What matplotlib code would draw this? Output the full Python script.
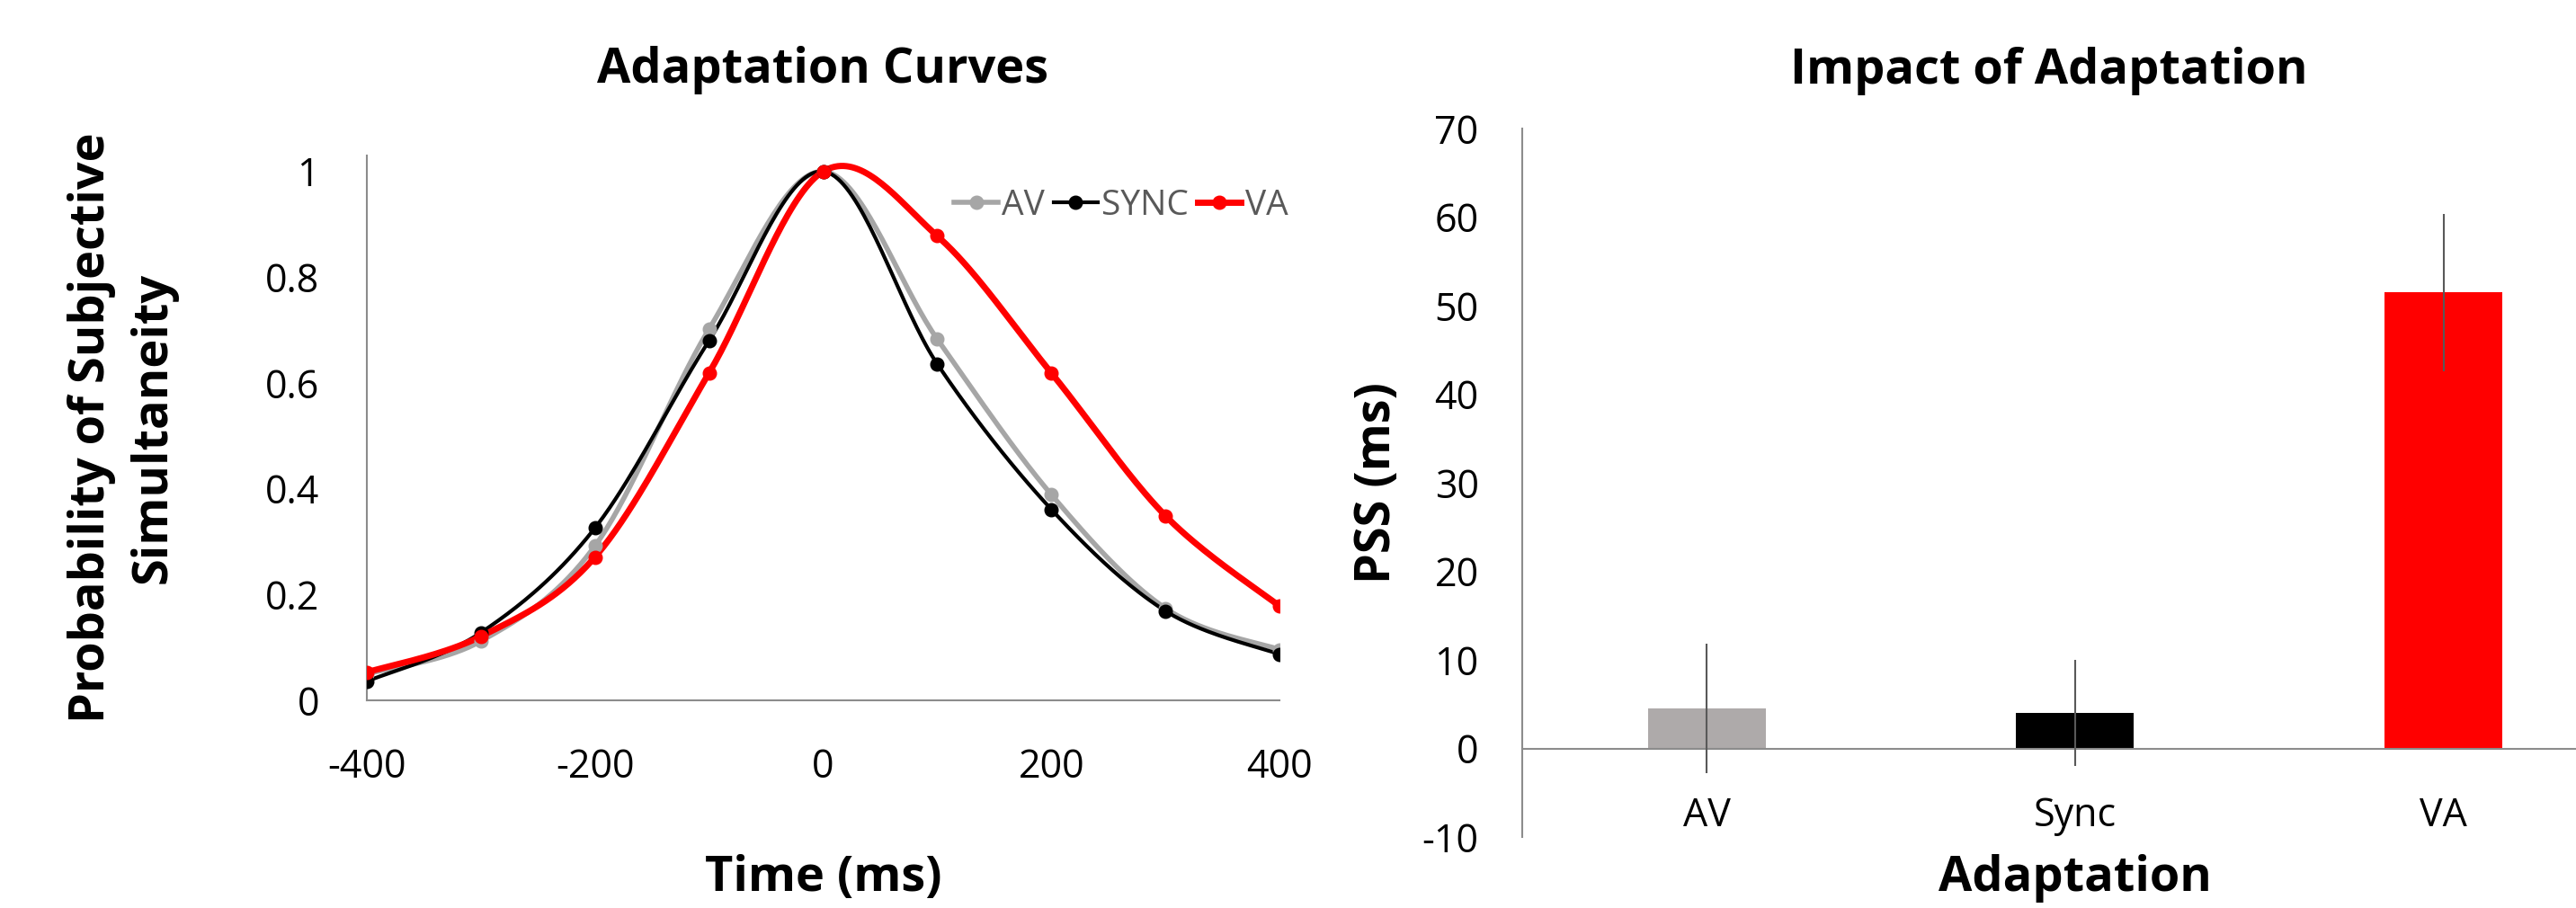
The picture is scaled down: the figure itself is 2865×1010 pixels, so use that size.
import numpy as np
import matplotlib
matplotlib.use("Agg")
import matplotlib.pyplot as plt

plt.rcParams['font.family'] = ['Open Sans', 'DejaVu Sans']
plt.rcParams['axes.unicode_minus'] = False

# left panel: simultaneity curves
time_ms = [-400, -300, -200, -100, 0, 100, 200, 300, 400]
av = [0.050, 0.112, 0.292, 0.702, 1.0, 0.683, 0.389, 0.174, 0.096]
sync = [0.036, 0.128, 0.326, 0.680, 1.0, 0.636, 0.361, 0.169, 0.087]
va = [0.053, 0.121, 0.271, 0.619, 1.0, 0.878, 0.619, 0.349, 0.178]

# right panel: PSS bars
conditions = ['AV', 'Sync', 'VA']
pss = [4.5, 4.05, 51.5]
pss_err = [7.3, 6.0, 8.9]


def smooth(x, y, n=40):
    # excel-like smoothed line (bezier, catmull-rom control points)
    x = np.asarray(x, float)
    y = np.asarray(y, float)
    px = np.concatenate(([x[0]], x, [x[-1]]))
    py = np.concatenate(([y[0]], y, [y[-1]]))
    t = np.linspace(0, 1, n)[:, None]
    xs, ys = [], []
    for i in range(1, len(px) - 2):
        p0 = np.array([px[i], py[i]])
        p3 = np.array([px[i + 1], py[i + 1]])
        c1 = p0 + (np.array([px[i + 1], py[i + 1]]) - np.array([px[i - 1], py[i - 1]])) / 6
        c2 = p3 - (np.array([px[i + 2], py[i + 2]]) - p0) / 6
        b = ((1 - t) ** 3) * p0 + 3 * ((1 - t) ** 2) * t * c1 + 3 * (1 - t) * t ** 2 * c2 + t ** 3 * p3
        xs.append(b[:, 0])
        ys.append(b[:, 1])
    return np.concatenate(xs), np.concatenate(ys)


fig = plt.figure(figsize=(28.65, 10.10), dpi=100)
axis_col = '#8c8c8c'

# ---- left
ax1 = fig.add_axes([0.1424, 0.2287, 0.3543, 0.60])
series = [('AV', av, '#a6a6a6', 4.0), ('SYNC', sync, 'black', 3.0), ('VA', va, '#ff0000', 5.0)]
for name, vals, col, lw in series:
    sx, sy = smooth(time_ms, vals)
    ax1.plot(sx, sy, color=col, lw=lw, zorder=3)
    ax1.plot(time_ms, vals, 'o', color=col, ms=10.5, zorder=4)
    ax1.plot([], [], '-o', color=col, lw=lw, ms=10.5, label=name)

ax1.set_xlim(-400, 400)
ax1.set_ylim(0, 1.03)
ax1.set_xticks([-400, -200, 0, 200, 400])
ax1.set_yticks([0, 0.2, 0.4, 0.6, 0.8, 1])
ax1.set_yticklabels(['0', '0.2', '0.4', '0.6', '0.8', '1'])
ax1.tick_params(length=0, labelsize=31, pad=38)
ax1.tick_params(axis='x', pad=38)
ax1.spines['top'].set_visible(False)
ax1.spines['right'].set_visible(False)
ax1.spines['left'].set_color(axis_col)
ax1.spines['bottom'].set_color(axis_col)
ax1.spines['left'].set_linewidth(1.5)
ax1.spines['bottom'].set_linewidth(1.5)
ax1.set_title('Adaptation Curves', fontsize=39, fontweight='bold', pad=58)
ax1.set_xlabel('Time (ms)', fontsize=39, fontweight='bold')
ax1.xaxis.set_label_coords(0.5, -0.327)
ax1.xaxis.label.set_va('center')
ax1.set_ylabel('Probability of Subjective\nSimultaneity', fontsize=39, fontweight='bold',
               labelpad=70, linespacing=1.35)
leg = ax1.legend(loc='upper right', bbox_to_anchor=(1.025, 0.965), ncol=3, frameon=False,
                 fontsize=28, handlelength=1.25, handletextpad=0.12, columnspacing=0.25,
                 borderaxespad=0)
for t in leg.get_texts():
    t.set_color('#595959')

# ---- right
ax2 = fig.add_axes([0.591, 0.0782, 0.409, 0.7802])
xpos = np.arange(len(conditions))
ax2.bar(xpos, pss, width=0.32, color=['#aeaaaa', 'black', '#ff0000'], zorder=2)
ax2.errorbar(xpos, pss, yerr=pss_err, fmt='none', ecolor='#595959', elinewidth=1.5, capsize=0, zorder=3)
x_lo, x_hi = -0.5, 2.36
ax2.set_xlim(x_lo, x_hi)
ax2.set_ylim(-10, 70)
ax2.set_yticks(range(-10, 71, 10))
ax2.set_xticks(xpos)
ax2.set_xticklabels(conditions)
ax2.spines['top'].set_visible(False)
ax2.spines['right'].set_visible(False)
ax2.spines['bottom'].set_position(('data', 0))
ax2.spines['left'].set_color(axis_col)
ax2.spines['bottom'].set_color(axis_col)
ax2.spines['left'].set_linewidth(1.5)
ax2.spines['bottom'].set_linewidth(1.5)
ax2.tick_params(length=0, labelsize=31, pad=35)
ax2.tick_params(axis='x', pad=38)
ax2.set_title('Impact of Adaptation', fontsize=39, fontweight='bold', pad=36)
ax2.set_ylabel('PSS (ms)', fontsize=39, fontweight='bold', labelpad=16)
ax2.set_xlabel('Adaptation', fontsize=39, fontweight='bold')
ax2.xaxis.set_label_coords((1 - x_lo) / (x_hi - x_lo), -0.058)
ax2.xaxis.label.set_va('center')

fig.savefig('out.png', dpi=100)
